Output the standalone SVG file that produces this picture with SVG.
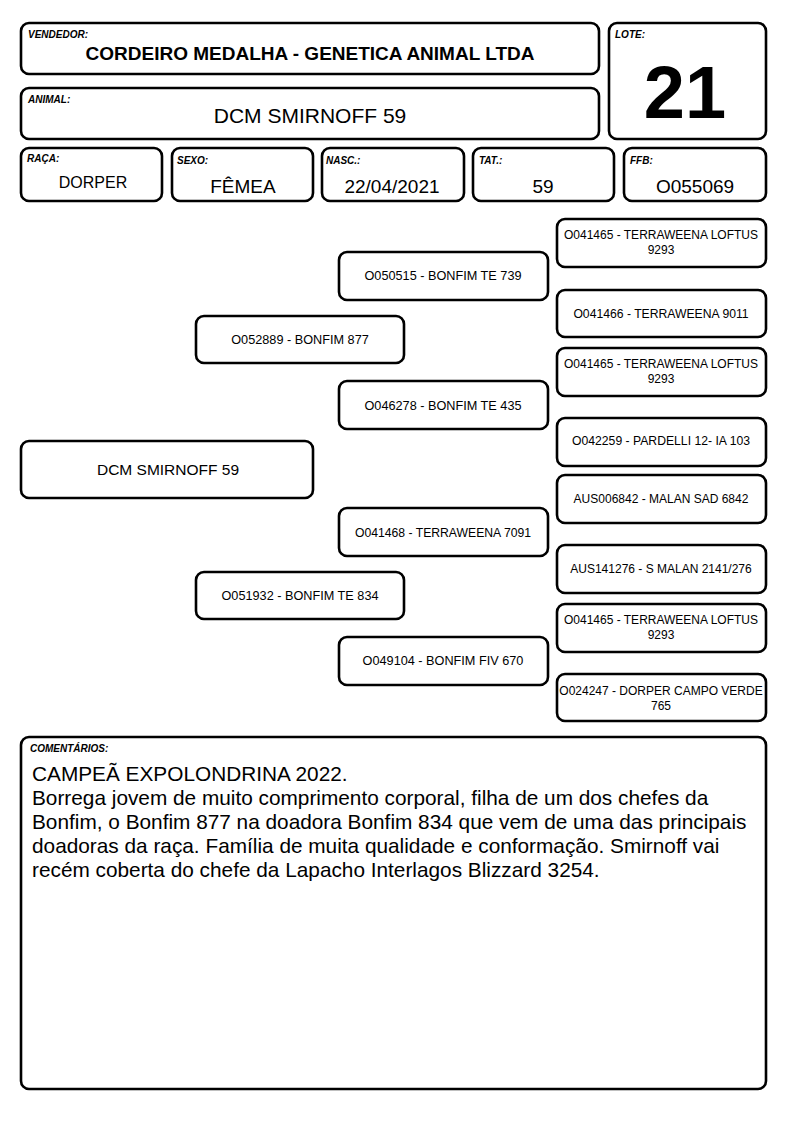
<svg xmlns="http://www.w3.org/2000/svg" width="794" height="1123" viewBox="0 0 794 1123">
<style>
.b{fill:#fff;stroke:#000;stroke-width:2.6}
.lb{font-family:"Liberation Sans",Arial,sans-serif;font-size:10px;font-weight:bold;font-style:italic}
.t{font-family:"Liberation Sans",Arial,sans-serif;text-anchor:middle}
.p{font-family:"Liberation Sans",Arial,sans-serif;font-size:12.2px;text-anchor:middle}
.q{font-size:12.7px}
.s{font-size:12px}
.c{font-family:"Liberation Sans",Arial,sans-serif;font-size:20.8px}
</style>
<rect width="794" height="1123" fill="#fff"/>
<g id="vendedor"><rect class="b" x="21" y="23" width="578" height="51" rx="8"/><text class="lb" x="28" y="38">VENDEDOR:</text><text class="t" x="310" y="60" font-size="19" font-weight="bold">CORDEIRO MEDALHA - GENETICA ANIMAL LTDA</text></g>
<g id="lote"><rect class="b" x="609" y="23" width="157" height="116" rx="8"/><text class="lb" x="615" y="38">LOTE:</text><text class="t" x="685" y="118" font-size="74" font-weight="bold">21</text></g>
<g id="animal"><rect class="b" x="21" y="88" width="578" height="51" rx="8"/><text class="lb" x="28" y="103">ANIMAL:</text><text class="t" x="310" y="123" font-size="21">DCM SMIRNOFF 59</text></g>
<g id="raca"><rect class="b" x="21" y="148" width="141" height="53" rx="8"/><text class="lb" x="27" y="162">RAÇA:</text><text class="t" x="93" y="188" font-size="16">DORPER</text></g>
<g id="sexo"><rect class="b" x="172" y="148" width="141" height="53" rx="8"/><text class="lb" x="177" y="164">SEXO:</text><text class="t" x="243" y="193" font-size="19">FÊMEA</text></g>
<g id="nasc"><rect class="b" x="322" y="148" width="142" height="53" rx="8"/><text class="lb" x="326" y="164">NASC.:</text><text class="t" x="392" y="193" font-size="19">22/04/2021</text></g>
<g id="tat"><rect class="b" x="473" y="148" width="141" height="53" rx="8"/><text class="lb" x="479" y="164">TAT.:</text><text class="t" x="543" y="193" font-size="19">59</text></g>
<g id="ffb"><rect class="b" x="624" y="148" width="142" height="53" rx="8"/><text class="lb" x="630" y="164">FFB:</text><text class="t" x="695" y="193" font-size="19">O055069</text></g>
<g id="connectors"></g>
<g id="main"><rect class="b" x="21" y="441" width="292" height="57" rx="8"/><text class="t" x="168" y="475" font-size="15.5">DCM SMIRNOFF 59</text></g>
<g id="pai"><rect class="b" x="196" y="316" width="208" height="47" rx="8"/><text class="p q" x="300" y="344">O052889 - BONFIM 877</text></g>
<g id="mae"><rect class="b" x="196" y="572" width="208" height="47" rx="8"/><text class="p q" x="300" y="600">O051932 - BONFIM TE 834</text></g>
<g id="avo1"><rect class="b" x="339" y="252" width="209" height="48" rx="8"/><text class="p q" x="443" y="280">O050515 - BONFIM TE 739</text></g>
<g id="avo2"><rect class="b" x="339" y="381" width="209" height="48" rx="8"/><text class="p q" x="443" y="410">O046278 - BONFIM TE 435</text></g>
<g id="avo3"><rect class="b" x="339" y="508" width="209" height="48" rx="8"/><text class="p" x="443" y="537">O041468 - TERRAWEENA 7091</text></g>
<g id="avo4"><rect class="b" x="339" y="637" width="209" height="48" rx="8"/><text class="p q" x="443" y="665">O049104 - BONFIM FIV 670</text></g>
<g id="bis1"><rect class="b" x="557" y="219" width="209" height="48" rx="8"/><text class="p s" x="661" y="239">O041465 - TERRAWEENA LOFTUS</text><text class="p s" x="661" y="254">9293</text></g>
<g id="bis2"><rect class="b" x="557" y="290" width="209" height="47" rx="8"/><text class="p" x="661" y="318">O041466 - TERRAWEENA 9011</text></g>
<g id="bis3"><rect class="b" x="557" y="348" width="209" height="48" rx="8"/><text class="p s" x="661" y="368">O041465 - TERRAWEENA LOFTUS</text><text class="p s" x="661" y="383">9293</text></g>
<g id="bis4"><rect class="b" x="557" y="418" width="209" height="48" rx="8"/><text class="p" x="661" y="445">O042259 - PARDELLI 12- IA 103</text></g>
<g id="bis5"><rect class="b" x="557" y="475" width="209" height="48" rx="8"/><text class="p s" x="661" y="503">AUS006842 - MALAN SAD 6842</text></g>
<g id="bis6"><rect class="b" x="557" y="545" width="209" height="48" rx="8"/><text class="p s" x="661" y="573">AUS141276 - S MALAN 2141/276</text></g>
<g id="bis7"><rect class="b" x="557" y="604" width="209" height="48" rx="8"/><text class="p s" x="661" y="624">O041465 - TERRAWEENA LOFTUS</text><text class="p s" x="661" y="639">9293</text></g>
<g id="bis8"><rect class="b" x="557" y="674" width="209" height="47" rx="8"/><text class="p s" x="661" y="695">O024247 - DORPER CAMPO VERDE</text><text class="p s" x="661" y="710">765</text></g>
<g id="comentarios"><rect class="b" x="21" y="737" width="745" height="352" rx="8"/><text class="lb" x="30" y="752">COMENTÁRIOS:</text>
<text class="c" x="32" y="781">CAMPEÃ EXPOLONDRINA 2022.</text>
<text class="c" x="32" y="805">Borrega jovem de muito comprimento corporal, filha de um dos chefes da</text>
<text class="c" x="32" y="829">Bonfim, o Bonfim 877 na doadora Bonfim 834 que vem de uma das principais</text>
<text class="c" x="32" y="853">doadoras da raça. Família de muita qualidade e conformação. Smirnoff vai</text>
<text class="c" x="32" y="877">recém coberta do chefe da Lapacho Interlagos Blizzard 3254.</text>
</g>
</svg>
